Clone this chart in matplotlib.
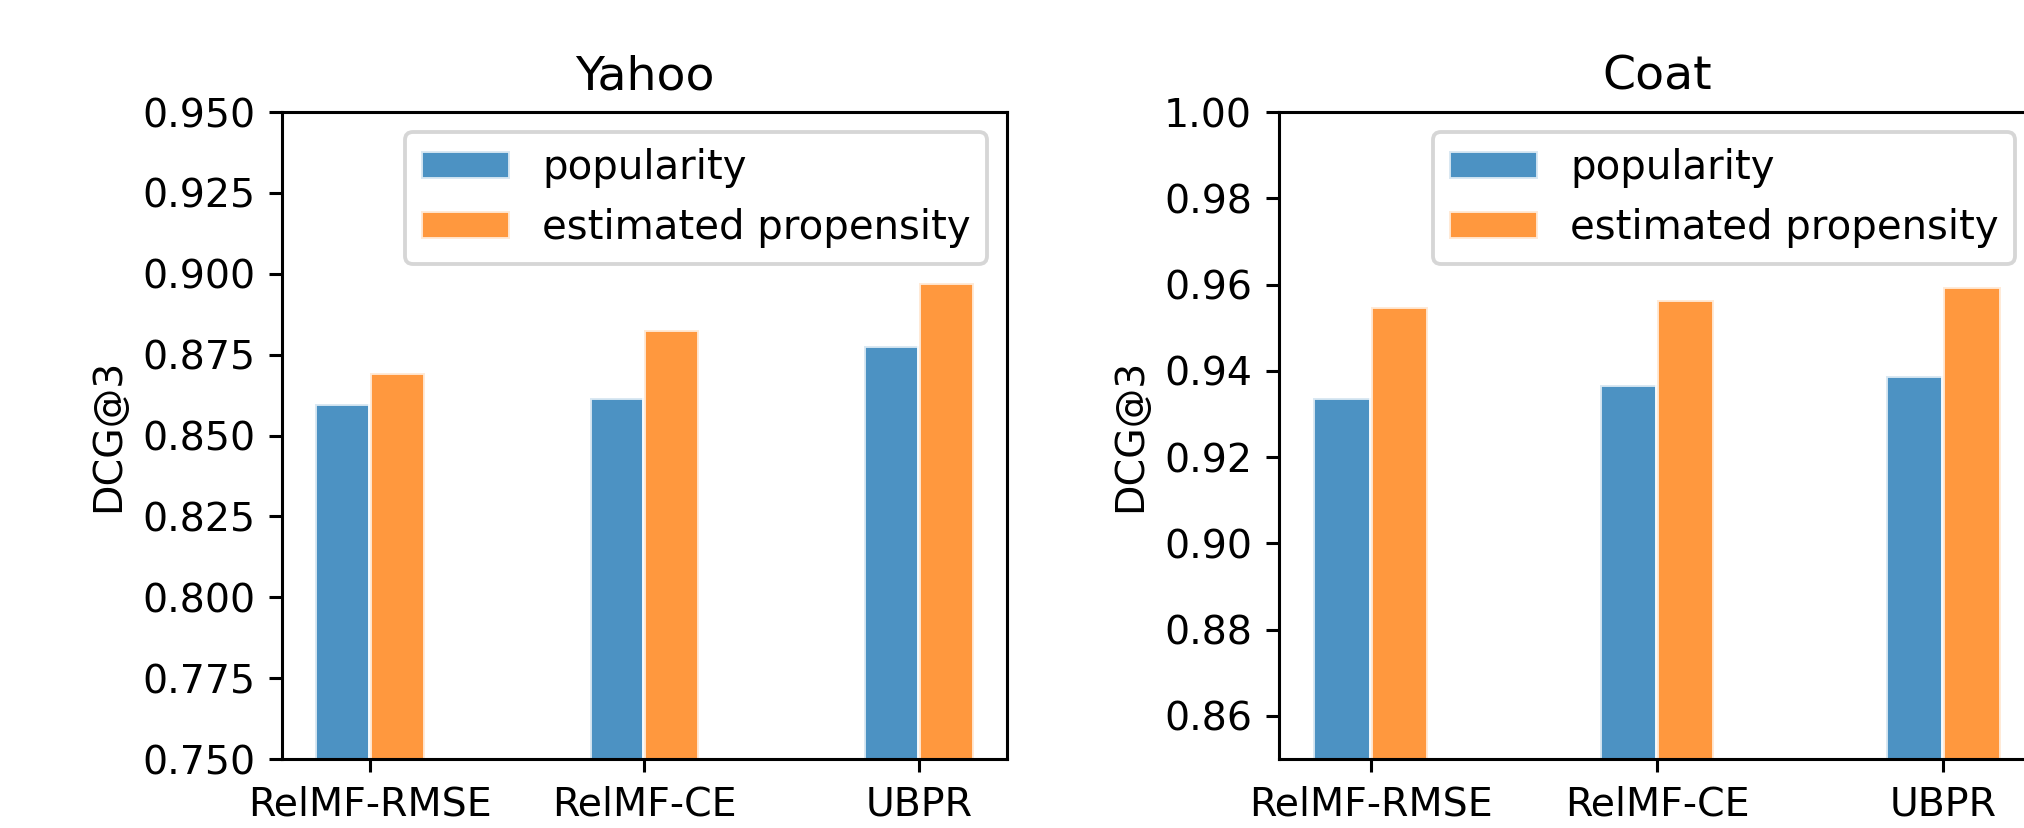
import numpy as np
import matplotlib
matplotlib.use("Agg")
import matplotlib.pyplot as plt

# Data
methods = ['RelMF-RMSE', 'RelMF-CE', 'UBPR']
series_names = ['popularity', 'estimated propensity']

yahoo_popularity = [0.8598, 0.8616, 0.8777]
yahoo_estimated = [0.8692, 0.8826, 0.8972]

coat_popularity = [0.9337, 0.9366, 0.9387]
coat_estimated = [0.9548, 0.9565, 0.9594]

yahoo_ylim = (0.75, 0.95)
yahoo_yticks = [0.750, 0.775, 0.800, 0.825, 0.850, 0.875, 0.900, 0.925, 0.950]
coat_ylim = (0.85, 1.00)
coat_yticks = [0.86, 0.88, 0.90, 0.92, 0.94, 0.96, 0.98, 1.00]

plt.rcParams['font.size'] = 10.3

fig = plt.figure(figsize=(2024 / 276, 828 / 276), dpi=276)

# axes placed by hand; the Coat panel runs off the right edge like the reference
ax1 = fig.add_axes([0.1393, 0.0833, 0.3582, 0.7814])
ax2 = fig.add_axes([0.6319, 0.0833, 0.3736, 0.7814])

w = 0.2
x = np.arange(len(methods))


def draw(ax, pop, est, title, ylim, yticks, fmt):
    ax.bar(x - w / 2, pop, w, color='tab:blue', alpha=0.8, edgecolor='white',
           label=series_names[0])
    ax.bar(x + w / 2, est, w, color='tab:orange', alpha=0.8, edgecolor='white',
           label=series_names[1])
    ax.set_xticks(x)
    ax.set_xticklabels(methods)
    ax.set_ylim(*ylim)
    ax.set_yticks(yticks)
    ax.set_yticklabels([fmt.format(t) for t in yticks])
    ax.set_ylabel('DCG@3')
    ax.set_title(title)
    ax.legend(loc='upper right', fontsize=10.5, handlelength=2.2)


draw(ax1, yahoo_popularity, yahoo_estimated, 'Yahoo', yahoo_ylim, yahoo_yticks, '{:.3f}')
draw(ax2, coat_popularity, coat_estimated, 'Coat', coat_ylim, coat_yticks, '{:.2f}')

fig.savefig('out.png', dpi=276)
